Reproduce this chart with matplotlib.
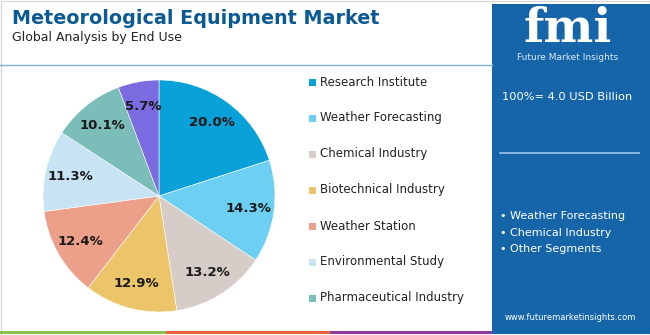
import matplotlib.pyplot as plt
from matplotlib.patches import Rectangle

# data
segments = ['Research Institute', 'Weather Forecasting', 'Chemical Industry',
            'Biotechnical Industry', 'Weather Station', 'Environmental Study',
            'Pharmaceutical Industry', 'Others']
shares = [20.0, 14.3, 13.2, 12.9, 12.4, 11.3, 10.1, 5.7]
colors = ['#0aa0d8', '#6dcff2', '#d6ccc8', '#ecc56a', '#eca08a', '#c7e3f4',
          '#7bbdb9', '#7b6be0']
legend_items = segments[:7]
top_segments = ['Weather Forecasting', 'Chemical Industry', 'Other Segments']
market_size = '100%= 4.0 USD Billion'

W, H = 650, 335
fig = plt.figure(figsize=(6.5, 3.35), dpi=100)
fig.patch.set_facecolor('white')


def fx(x):
    return x / W


def fy(y):
    return 1 - y / H


# frame / decorations
bg = fig.add_axes([0, 0, 1, 1])
bg.set_xlim(0, W)
bg.set_ylim(H, 0)
bg.axis('off')
bg.add_patch(Rectangle((0.5, 0.5), W - 1, H - 1, fill=False, ec='#d9d9d9', lw=1))
bg.plot([0, 492], [65, 65], color='#7fb3d6', lw=1)
bg.add_patch(Rectangle((0, 331), 166, 3, color='#8bc34a', lw=0))
bg.add_patch(Rectangle((166, 331), 164, 3, color='#e8643c', lw=0))
bg.add_patch(Rectangle((330, 331), 162, 3, color='#8e3a9d', lw=0))
bg.add_patch(Rectangle((492, 4), 158, 330, color='#1565a8', lw=0))

# titles
bg.text(12, 18, 'Meteorological Equipment Market', color='#0b5a94',
        fontsize=13.8, fontweight='bold', va='center', ha='left')
bg.text(12, 38, 'Global Analysis by End Use', color='#222222',
        fontsize=9, va='center', ha='left')

# right panel
bg.text(568, 29, 'fmi', color='white', fontsize=34, fontweight='bold',
        family='DejaVu Serif', ha='center', va='center')
bg.text(568, 58, 'Future Market Insights', color='#dce9f5', fontsize=6.5,
        ha='center', va='center')
bg.text(502, 97, market_size, color='white', fontsize=8.2, ha='left', va='center')
bg.plot([500, 639], [153, 153], color='#9cc3e6', lw=1.2)
for i, s in enumerate(top_segments):
    bg.text(500, 216 + i * 16.5, '\u2022 ' + s, color='white', fontsize=8,
            ha='left', va='center')
bg.text(570, 318, 'www.futuremarketinsights.com', color='white', fontsize=6,
        ha='center', va='center')

# legend
for i, (name, c) in enumerate(zip(legend_items, colors)):
    y = 82 + i * 36
    bg.add_patch(Rectangle((309, y - 3.5), 7, 7, color=c, lw=0))
    bg.text(320, y, name, color='#222222', fontsize=8.5, ha='left', va='center')

# pie
cx, cy, r = 159, 196, 116
ax = fig.add_axes([fx(cx - r), fy(cy + r), 2 * r / W, 2 * r / H])
wedges, texts, autotexts = ax.pie(
    shares, colors=colors, startangle=90, counterclock=False,
    autopct='%.1f%%', pctdistance=0.78,
    wedgeprops=dict(edgecolor='white', linewidth=0.4),
    textprops=dict(color='#1a1a1a', fontsize=9.5, fontweight='bold'))
ax.set_xlim(-1, 1)
ax.set_ylim(-1, 1)
ax.set_aspect('equal')

fig.savefig('out.png', dpi=100)
